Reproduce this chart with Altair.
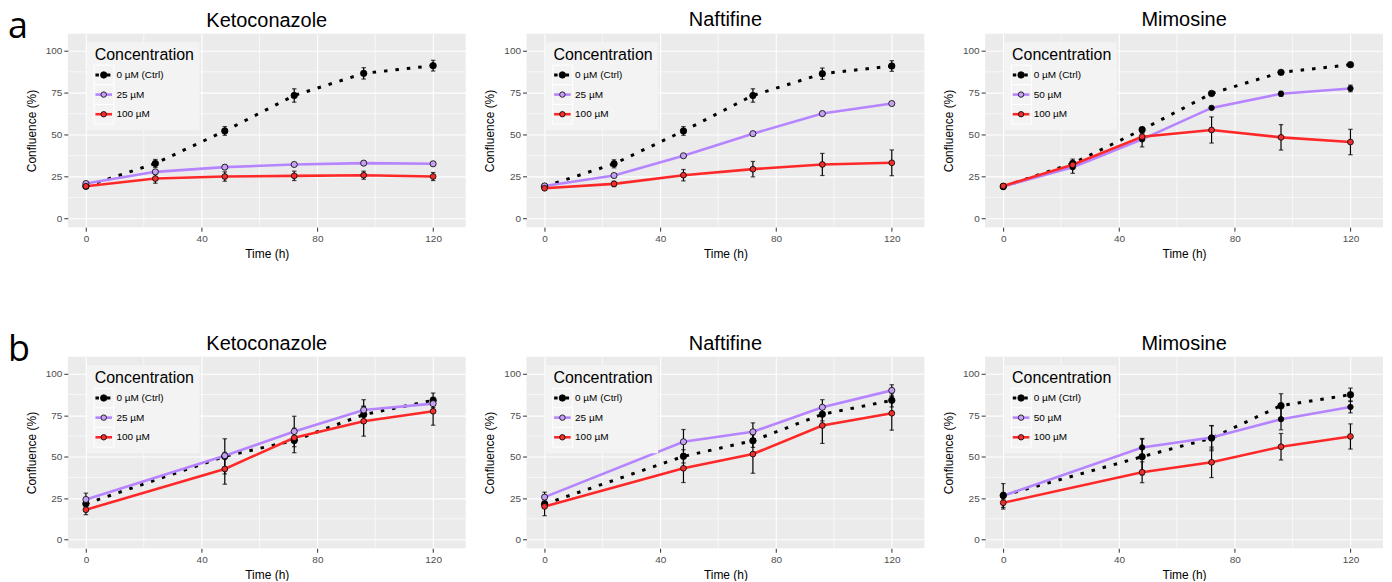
import altair as alt
import pandas as pd

# ---------------- data ----------------
TIMES_A = [0, 24, 48, 72, 96, 120]
TIMES_B = [0, 48, 72, 96, 120]
X_TICKS = [0, 40, 80, 120]
Y_TICKS = [0, 25, 50, 75, 100]
X_MINOR = [20, 60, 100]
Y_MINOR = [12.5, 37.5, 62.5, 87.5]
X_DOMAIN = [-6.25, 131.25]
Y_DOMAIN = [-5.25, 110.25]

DRUGS = ["Ketoconazole", "Naftifine", "Mimosine"]
CTRL = "0 µM (Ctrl)"
KETO_LABELS = [CTRL, "25 µM", "100 µM"]
NAFT_LABELS = [CTRL, "25 µM", "100 µM"]
MIMO_LABELS = [CTRL, "50 µM", "100 µM"]

# Row a
A_KETO_CTRL = [19.2, 32.8, 52.2, 73.4, 86.6, 91.2]
A_KETO_CTRL_ERR = [1.0, 2.4, 2.6, 4.0, 3.4, 3.2]
A_KETO_LOW = [20.8, 27.8, 30.6, 32.2, 33.0, 32.6]
A_KETO_LOW_ERR = [0.6, 0.8, 0.8, 0.8, 0.8, 0.8]
A_KETO_HIGH = [19.2, 23.8, 25.0, 25.4, 25.8, 25.0]
A_KETO_HIGH_ERR = [1.0, 2.8, 2.8, 2.8, 2.4, 2.4]

A_NAFT_CTRL = [19.0, 32.6, 52.2, 73.4, 86.4, 91.0]
A_NAFT_CTRL_ERR = [1.0, 2.4, 2.6, 4.0, 3.4, 3.2]
A_NAFT_LOW = [19.4, 25.6, 37.4, 50.6, 62.6, 68.6]
A_NAFT_LOW_ERR = [0.6, 0.8, 0.8, 0.8, 0.8, 0.8]
A_NAFT_HIGH = [18.0, 20.6, 25.8, 29.4, 32.2, 33.2]
A_NAFT_HIGH_ERR = [1.0, 1.6, 3.4, 4.6, 6.6, 7.7]

A_MIMO_CTRL = [19.0, 32.8, 53.0, 74.6, 87.2, 91.8]
A_MIMO_CTRL_ERR = [1.5, 2.6, 1.5, 1.0, 1.0, 1.0]
A_MIMO_LOW = [19.0, 30.6, 47.2, 66.0, 74.4, 77.6]
A_MIMO_LOW_ERR = [1.0, 3.7, 4.5, 1.0, 1.5, 2.0]
A_MIMO_HIGH = [19.4, 32.0, 48.8, 52.8, 48.4, 45.6]
A_MIMO_HIGH_ERR = [1.0, 1.5, 2.0, 7.8, 7.6, 7.6]

# Row b
B_KETO_CTRL = [21.6, 50.2, 59.8, 75.4, 84.0]
B_KETO_CTRL_ERR = [3.0, 10.6, 7.4, 5.0, 4.4]
B_KETO_LOW = [24.2, 50.6, 65.2, 78.2, 82.0]
B_KETO_LOW_ERR = [3.8, 2.0, 9.2, 6.2, 1.0]
B_KETO_HIGH = [18.0, 42.6, 61.4, 71.4, 77.4]
B_KETO_HIGH_ERR = [3.0, 9.2, 3.0, 9.0, 8.4]

B_NAFT_CTRL = [21.4, 50.2, 59.6, 75.6, 84.0]
B_NAFT_CTRL_ERR = [2.0, 4.0, 4.0, 4.0, 4.0]
B_NAFT_LOW = [25.6, 59.0, 65.0, 79.8, 90.0]
B_NAFT_LOW_ERR = [3.0, 7.4, 5.4, 4.6, 3.4]
B_NAFT_HIGH = [20.0, 43.0, 51.6, 68.8, 76.2]
B_NAFT_HIGH_ERR = [5.6, 8.6, 11.6, 10.8, 10.2]

B_MIMO_CTRL = [26.6, 50.0, 61.2, 80.8, 87.4]
B_MIMO_CTRL_ERR = [7.2, 11.0, 7.6, 7.2, 4.0]
B_MIMO_LOW = [26.4, 55.6, 61.6, 72.6, 80.0]
B_MIMO_LOW_ERR = [2.0, 5.0, 7.0, 6.4, 3.6]
B_MIMO_HIGH = [22.2, 40.6, 46.6, 56.0, 62.2]
B_MIMO_HIGH_ERR = [3.8, 6.3, 9.2, 8.0, 7.6]

# ---------------- style ----------------
FONT = "Liberation Sans"
PURPLE_LINE = "#B684FF"
PURPLE_FILL = "#C6A2F2"
RED_LINE = "#FF2828"
RED_FILL = "#EC3030"
PANEL_BG = "#EBEBEB"
LEGEND_BG = "#F3F3F3"
CTRL_DASH = [3.5, 8]

W = 399
TAG_SIZE = 36
TAG_Y = 4
TITLE_OFFSET = 3


def panel(drug, times, labels, series, height, tag=None):
    rows = []
    for lab, (vals, errs) in zip(labels, series):
        for t, v, e in zip(times, vals, errs):
            rows.append({"time": t, "conc": lab, "value": v, "lo": v - e, "hi": v + e})
    df = pd.DataFrame(rows)

    xscale = alt.Scale(domain=X_DOMAIN, nice=False, zero=False)
    yscale = alt.Scale(domain=Y_DOMAIN, nice=False, zero=False)
    xax = alt.Axis(values=X_TICKS, title="Time (h)", format="d")
    yax = alt.Axis(values=Y_TICKS, title="Confluence (%)", format="d")

    def X(f):
        return alt.X(f, type="quantitative", scale=xscale, axis=xax)

    def Y(f):
        return alt.Y(f, type="quantitative", scale=yscale, axis=yax)

    base = alt.Chart(df)
    line_colors = [PURPLE_LINE, RED_LINE]
    fills = ["black", PURPLE_FILL, RED_FILL]

    vgrid = alt.Chart(pd.DataFrame({"time": X_MINOR})).mark_rule(
        color="white", strokeWidth=0.6).encode(x=X("time"))
    hgrid = alt.Chart(pd.DataFrame({"value": Y_MINOR})).mark_rule(
        color="white", strokeWidth=0.6).encode(y=Y("value"))

    ctrl_line = base.transform_filter(alt.datum.conc == CTRL).mark_line(
        color="black", strokeWidth=3, strokeDash=CTRL_DASH
    ).encode(x=X("time"), y=Y("value"))

    drug_lines = base.transform_filter(alt.datum.conc != CTRL).mark_line(
        strokeWidth=2.6
    ).encode(
        x=X("time"), y=Y("value"),
        color=alt.Color("conc:N", scale=alt.Scale(domain=labels[1:], range=line_colors), legend=None),
    )

    err_rule = base.mark_rule(color="black", strokeWidth=1.2).encode(
        x=X("time"), y=Y("lo"), y2="hi")
    err_lo = base.mark_tick(color="black", orient="horizontal", size=4.5, thickness=1.2).encode(
        x=X("time"), y=Y("lo"))
    err_hi = base.mark_tick(color="black", orient="horizontal", size=4.5, thickness=1.2).encode(
        x=X("time"), y=Y("hi"))

    points = base.mark_point(filled=True, shape="circle", stroke="black",
                             strokeWidth=0.8, opacity=1).encode(
        x=X("time"), y=Y("value"),
        fill=alt.Fill("conc:N", scale=alt.Scale(domain=labels, range=fills), legend=None),
        size=alt.Size("conc:N", scale=alt.Scale(domain=labels, range=[42, 30, 30]), legend=None),
    )

    one = pd.DataFrame({"k": [0]})
    layers = [vgrid, hgrid, ctrl_line, drug_lines, err_rule, err_lo, err_hi, points]

    # legend drawn inside the panel
    layers.append(alt.Chart(one).mark_rect(fill=LEGEND_BG).encode(
        x=alt.value(19.3), x2=alt.value(132), y=alt.value(8.4), y2=alt.value(96.7)))
    layers.append(alt.Chart(one).mark_text(
        text="Concentration", align="left", baseline="alphabetic", fontSize=16,
        font=FONT, color="black").encode(x=alt.value(27), y=alt.value(26.5)))
    key_strokes = ["black", PURPLE_LINE, RED_LINE]
    key_sizes = [42, 30, 30]
    for i, lab in enumerate(labels):
        cy = 41.3 + 19.7 * i
        layers.append(alt.Chart(one).mark_rect(fill=LEGEND_BG, stroke="white", strokeWidth=1).encode(
            x=alt.value(26.3), x2=alt.value(46.3), y=alt.value(cy - 9.8), y2=alt.value(cy + 9.8)))
        if i == 0:
            key_line = alt.Chart(one).mark_rule(color="black", strokeWidth=3, strokeDash=CTRL_DASH)
        else:
            key_line = alt.Chart(one).mark_rule(color=key_strokes[i], strokeWidth=2.6)
        layers.append(key_line.encode(x=alt.value(27.7), x2=alt.value(44.3), y=alt.value(cy)))
        layers.append(alt.Chart(one).mark_point(
            filled=True, shape="circle", fill=fills[i], stroke="black", strokeWidth=0.8,
            size=key_sizes[i], opacity=1).encode(x=alt.value(36), y=alt.value(cy)))
        layers.append(alt.Chart(one).mark_text(
            text=lab, align="left", baseline="middle", fontSize=10, font=FONT,
            color="black").encode(x=alt.value(48.7), y=alt.value(cy)))

    offset = TITLE_OFFSET
    if tag is not None:
        layers.append(alt.Chart(one).mark_text(
            text=tag, align="left", baseline="alphabetic", fontSize=TAG_SIZE,
            font="Open Sans", color="black").encode(x=alt.value(-60), y=alt.value(TAG_Y)))
        # the panel letter raises this panel's top bound; keep title level with the others
        offset = TITLE_OFFSET - (round(0.8 * TAG_SIZE) - TAG_Y)

    return alt.layer(*layers).properties(
        width=W, height=height,
        title=alt.TitleParams(drug, fontSize=20, font=FONT, fontWeight="normal",
                              anchor="middle", offset=offset, color="black"),
    )


row_a = alt.hconcat(
    panel("Ketoconazole", TIMES_A, KETO_LABELS,
          [(A_KETO_CTRL, A_KETO_CTRL_ERR), (A_KETO_LOW, A_KETO_LOW_ERR), (A_KETO_HIGH, A_KETO_HIGH_ERR)],
          194, "a"),
    panel("Naftifine", TIMES_A, NAFT_LABELS,
          [(A_NAFT_CTRL, A_NAFT_CTRL_ERR), (A_NAFT_LOW, A_NAFT_LOW_ERR), (A_NAFT_HIGH, A_NAFT_HIGH_ERR)], 194),
    panel("Mimosine", TIMES_A, MIMO_LABELS,
          [(A_MIMO_CTRL, A_MIMO_CTRL_ERR), (A_MIMO_LOW, A_MIMO_LOW_ERR), (A_MIMO_HIGH, A_MIMO_HIGH_ERR)], 194),
    spacing=17,
)
row_b = alt.hconcat(
    panel("Ketoconazole", TIMES_B, KETO_LABELS,
          [(B_KETO_CTRL, B_KETO_CTRL_ERR), (B_KETO_LOW, B_KETO_LOW_ERR), (B_KETO_HIGH, B_KETO_HIGH_ERR)],
          192, "b"),
    panel("Naftifine", TIMES_B, NAFT_LABELS,
          [(B_NAFT_CTRL, B_NAFT_CTRL_ERR), (B_NAFT_LOW, B_NAFT_LOW_ERR), (B_NAFT_HIGH, B_NAFT_HIGH_ERR)], 192),
    panel("Mimosine", TIMES_B, MIMO_LABELS,
          [(B_MIMO_CTRL, B_MIMO_CTRL_ERR), (B_MIMO_LOW, B_MIMO_LOW_ERR), (B_MIMO_HIGH, B_MIMO_HIGH_ERR)], 192),
    spacing=17,
)

chart = alt.vconcat(row_a, row_b, spacing=73).properties(
    padding={"left": 0, "top": 0, "right": 0, "bottom": 0},
    background="white",
).configure_view(
    fill=PANEL_BG, stroke="transparent", strokeWidth=0
).configure_axis(
    grid=True, gridColor="white", gridWidth=1.1, domain=False,
    ticks=True, tickColor="#333333", tickSize=4, tickWidth=1,
    labelColor="#4D4D4D", labelFont=FONT, labelFontSize=10, labelPadding=2,
    titleFont=FONT, titleFontSize=12, titleFontWeight="normal", titleColor="black",
    titlePadding=4,
).configure_axisX(titlePadding=5).configure_axisY(titlePadding=7)

chart.save("out.html", embed_options={"renderer": "svg", "actions": False})
